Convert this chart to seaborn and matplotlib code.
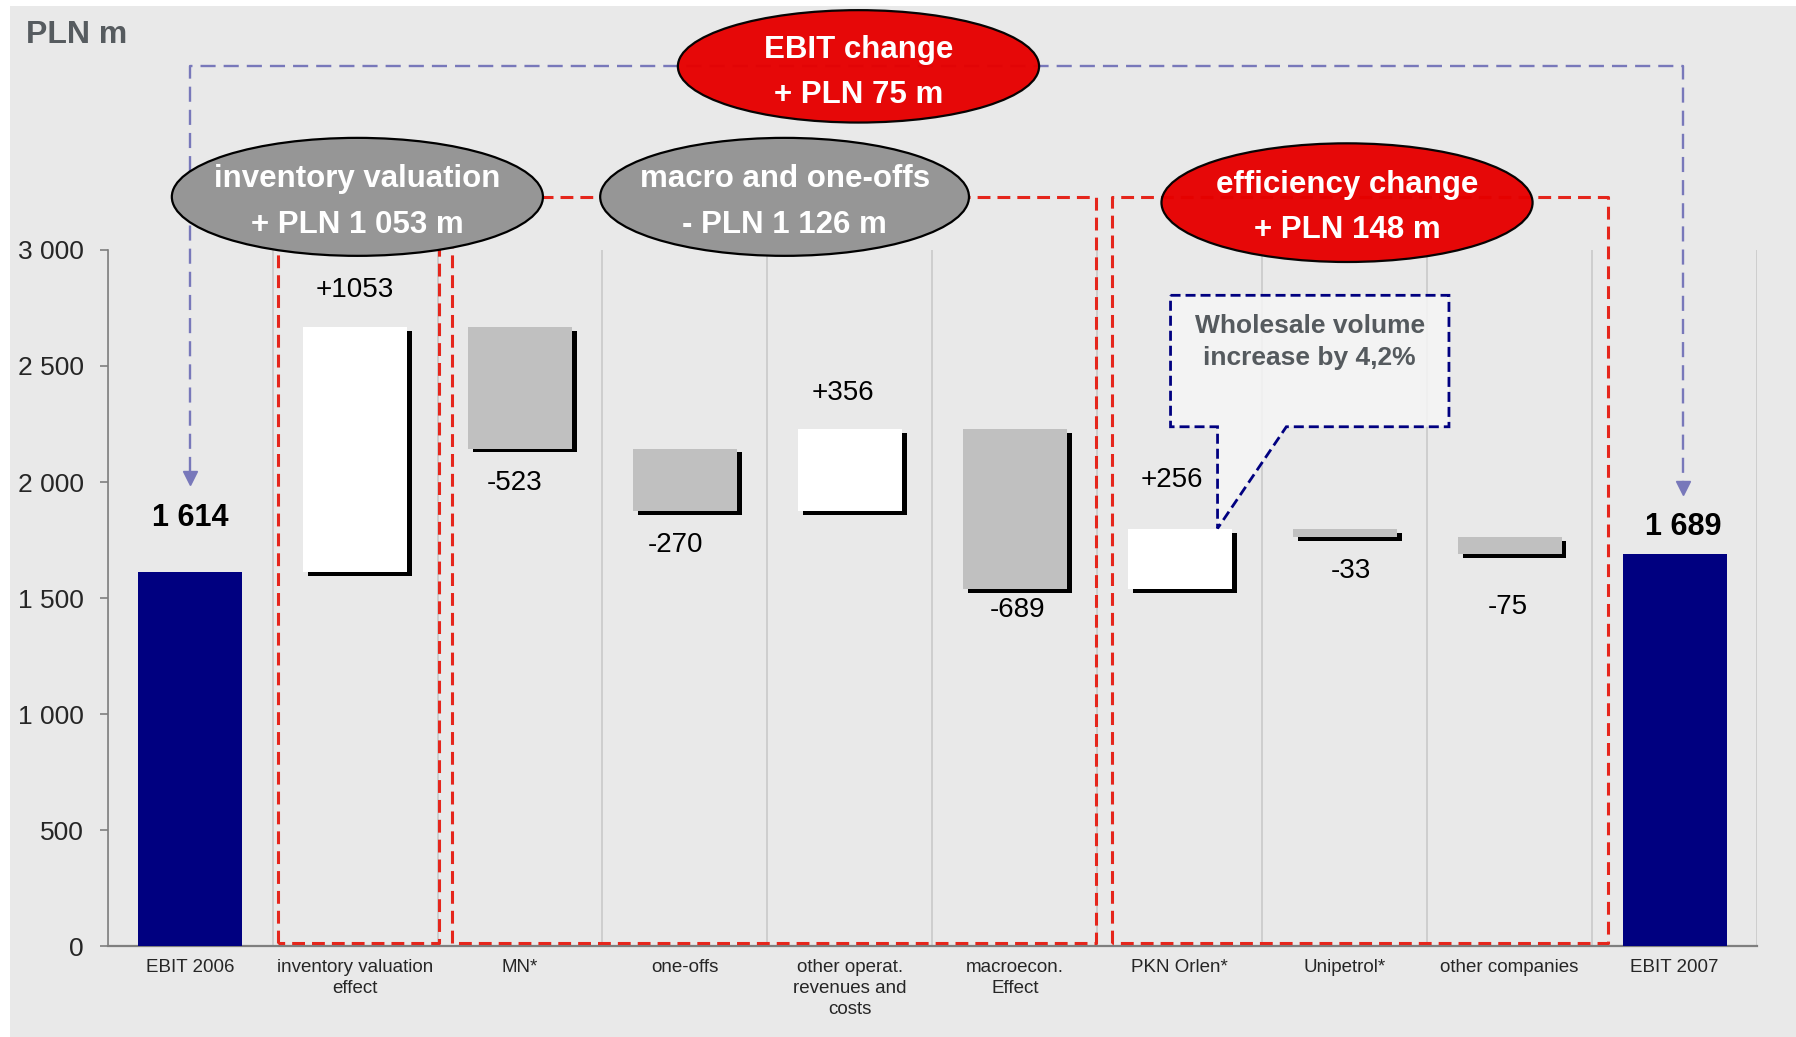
import numpy as np
import pandas as pd
import matplotlib
matplotlib.use("Agg")
import matplotlib.pyplot as plt
import matplotlib.patheffects as pe
from matplotlib.patches import Ellipse, Polygon, Rectangle
import seaborn as sns

# --- data ---
steps = ["EBIT 2006", "inventory valuation\neffect", "MN*", "one-offs",
         "other operat.\nrevenues and\ncosts", "macroecon.\nEffect",
         "PKN Orlen*", "Unipetrol*", "other companies", "EBIT 2007"]
ebit_2006 = 1614
ebit_2007 = 1689
changes = [1053, -523, -270, 356, -689, 256, -33, -75]
value_labels = ["1 614", "+1053", "-523", "-270", "+356", "-689",
                "+256", "-33", "-75", "1 689"]
y_ticks = [0, 500, 1000, 1500, 2000, 2500, 3000]
y_tick_labels = ["0", "500", "1 000", "1 500", "2 000", "2 500", "3 000"]
bubble_titles = [["EBIT change", "+ PLN 75 m"],
                 ["inventory valuation", "+ PLN 1 053 m"],
                 ["macro and one-offs", "- PLN 1 126 m"],
                 ["efficiency change", "+ PLN 148 m"]]
callout_lines = ["Wholesale volume", "increase by 4,2%"]

# --- layout (data coordinates of the annotations) ---
label_y = [1846, 2828, 1994, 1728, 2384, 1451, 2009, 1619, 1461, 1807]
label_dx = [0, 0, -0.035, -0.06, -0.04, 0.014, -0.05, 0.04, -0.014, 0.05]
bubble_xy = [(4.052, 3790), (1.014, 3228), (3.604, 3228), (7.014, 3203)]
bubble_wh = [(2.19, 484), (2.25, 508), (2.236, 508), (2.25, 511)]
bubble_line_y = [(3862, 3668), (3303, 3108), (3303, 3108), (3280, 3086)]
bubble_colors = ["#E60000", "#969696", "#969696", "#E60000"]
frames_x = [(0.535, 1.507), (1.59, 5.493), (5.59, 8.597)]
frame_top, frame_bottom = 3228, 15

NAVY = "#000080"
RED_DASH = "#E5261C"
LAV = "#7878BA"
BG = "#E9E9E9"

# waterfall bases / heights
levels = ebit_2006 + np.concatenate([[0], np.cumsum(changes)])
bases = [0] + list(np.minimum(levels[:-1], levels[1:])) + [0]
heights = [ebit_2006] + list(np.abs(changes)) + [ebit_2007]
kinds = ["total"] + ["up" if c > 0 else "down" for c in changes] + ["total"]
bar_colors = {"total": NAVY, "up": "#FFFFFF", "down": "#C0C0C0"}

df = pd.DataFrame({"step": steps, "base": bases, "height": heights, "kind": kinds})

sns.set_theme(style="white")
plt.rcParams["font.family"] = ["Liberation Sans", "DejaVu Sans"]

fig = plt.figure(figsize=(17.96, 10.37), dpi=100)
fig.patch.set_facecolor("white")
fig.patches.append(Rectangle((10 / 1796, 0), 1, 1 - 6 / 1037, transform=fig.transFigure,
                             facecolor=BG, edgecolor="none", zorder=-10))
ax = fig.add_axes([0.05995, 0.08729, 0.91837, 0.67182])
ax.set_facecolor("none")

sns.barplot(data=df, x="step", y="height", bottom=df["base"].values, color="white",
            width=0.63, saturation=1, errorbar=None, ax=ax, zorder=3)

for patch, kind in zip(ax.patches, df["kind"]):
    patch.set_facecolor(bar_colors[kind])
    patch.set_edgecolor("none")
    if kind != "total":
        patch.set_path_effects([pe.SimplePatchShadow(offset=(3.5, -2.8), shadow_rgbFace="black", alpha=1.0),
                                pe.Normal()])

# value labels
for i, (txt, y) in enumerate(zip(value_labels, label_y)):
    bold = kinds[i] == "total"
    ax.text(i + label_dx[i], y, txt, ha="center", va="center",
            fontsize=22 if bold else 20, fontweight="bold" if bold else "normal",
            color="black", zorder=6)

# axes styling
ax.set_xlim(-0.5, 9.5)
ax.set_ylim(0, 3000)
ax.set_yticks(y_ticks)
ax.set_yticklabels(y_tick_labels, fontsize=19)
ax.set_xlabel("")
ax.set_ylabel("")
ax.set_xticks(range(len(steps)))
ax.set_xticklabels(steps, fontsize=13.5)
for lbl in ax.get_xticklabels():
    lbl.set_linespacing(1.3)
ax.set_xticks(np.arange(-0.5, 10, 1), minor=True)
ax.tick_params(axis="x", which="major", length=0, pad=9)
ax.tick_params(axis="x", which="minor", length=6, width=1.2, color="#7F7F7F", direction="out")
ax.tick_params(axis="y", length=6, width=1.2, color="#7F7F7F", direction="out", pad=11, left=True)
ax.grid(False)
ax.grid(which="minor", axis="x", color="#C6C6C6", lw=1.1)
ax.set_axisbelow(True)
for side in ["top", "right"]:
    ax.spines[side].set_visible(False)
ax.spines["left"].set_color("#7F7F7F")
ax.spines["left"].set_linewidth(1.2)
ax.spines["bottom"].set_color("#7F7F7F")
ax.spines["bottom"].set_linewidth(1.6)

# red dashed group frames
for x0, x1 in frames_x:
    ax.plot([x0, x0, x1, x1, x0], [frame_bottom, frame_top, frame_top, frame_bottom, frame_bottom],
            color=RED_DASH, lw=2.2, dashes=(4.2, 2.3), clip_on=False, zorder=4)

# lavender bracket with arrows
left_tip, right_tip, bracket_y = 1987, 1945, 3790
left_x, right_x = 0, 9.05
ax.plot([left_x, left_x, right_x, right_x],
        [left_tip + 55, bracket_y, bracket_y, right_tip + 55],
        color=LAV, lw=1.7, dashes=(6.4, 3.4), clip_on=False, zorder=4)
ax.plot([left_x, right_x], [left_tip + 30, right_tip + 30], ls="none", marker="v", ms=10,
        color=LAV, clip_on=False, zorder=4)

# callout box
callout = Polygon([(5.944, 2804), (7.632, 2804), (7.632, 2238), (6.646, 2238),
                   (6.229, 1800), (6.229, 2238), (5.944, 2238)], closed=True,
                  facecolor="#F5F5F5", alpha=0.85, edgecolor="none", zorder=4, clip_on=False)
ax.add_patch(callout)
callout_edge = Polygon(callout.get_xy(), closed=True, fill=False, edgecolor=NAVY, lw=2.0,
                       ls=(0, (3.6, 1.8)), zorder=5, clip_on=False)
ax.add_patch(callout_edge)
for txt, y in zip(callout_lines, [2673, 2532]):
    ax.text(6.788, y, txt, ha="center", va="center", fontsize=19, fontweight="bold",
            color="#555A5E", zorder=6)

# bubbles
for (cx, cy), (w, h), col, ly, lines in zip(bubble_xy, bubble_wh, bubble_colors, bubble_line_y, bubble_titles):
    ax.add_patch(Ellipse((cx, cy), w, h, facecolor=col, edgecolor="black", lw=1.6,
                         zorder=7, clip_on=False, alpha=0.97 if col != "#969696" else 1))
    for txt, y in zip(lines, ly):
        ax.text(cx, y, txt, ha="center", va="center", fontsize=22.5, fontweight="bold",
                color="white", zorder=8, clip_on=False)

fig.text(26 / 1796, 1 - 43 / 1037, "PLN m", ha="left", va="baseline", fontsize=23,
         fontweight="bold", color="#565B5F")

fig.savefig("out.png", dpi=100, facecolor=fig.get_facecolor())
